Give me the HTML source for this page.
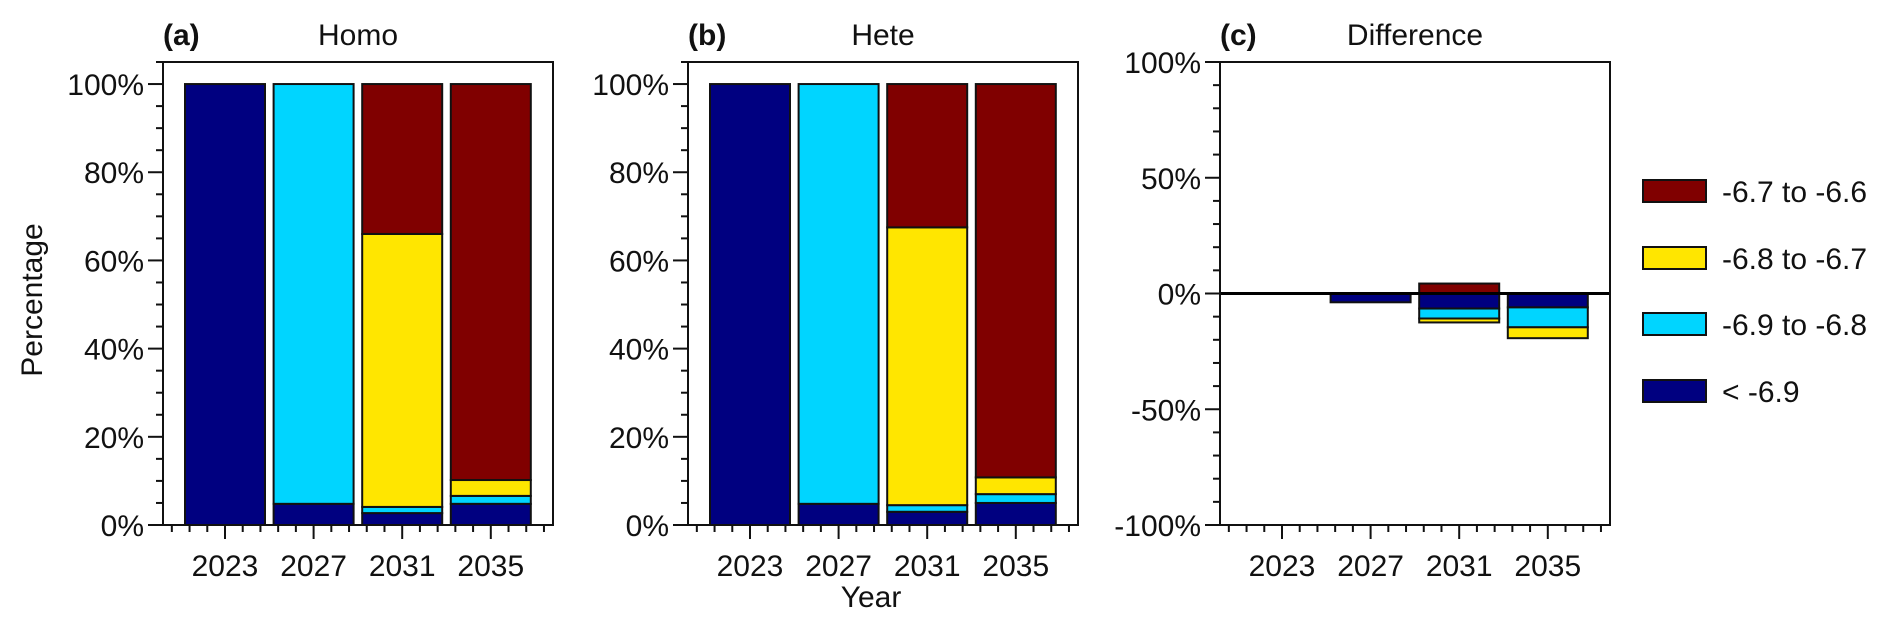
<!DOCTYPE html>
<html><head><meta charset="utf-8"><style>
html,body{margin:0;padding:0;background:#fff;}
svg{display:block;font-family:"Liberation Sans",Arial,sans-serif;}
</style></head><body>
<svg id="chart" width="1892" height="631" viewBox="0 0 1892 631" xmlns="http://www.w3.org/2000/svg"></svg>
<script>
const categories = ["2023","2027","2031","2035"];
const seriesNames = ["< -6.9","-6.9 to -6.8","-6.8 to -6.7","-6.7 to -6.6"];
const colors = ["#000080","#00d5ff","#ffe600","#800000"];
// Homo panel values (%) per class: navy, cyan, yellow, red
const homoNavy = [100, 4.8, 2.7, 4.8];
const homoCyan = [0, 95.2, 1.4, 1.8];
const homoYellow = [0, 0, 61.9, 3.6];
const homoRed = [0, 0, 34.0, 89.8];
// Hete panel
const heteNavy = [100, 4.8, 3.0, 5.0];
const heteCyan = [0, 95.2, 1.5, 2.0];
const heteYellow = [0, 0, 63.0, 3.8];
const heteRed = [0, 0, 32.5, 89.2];
// Difference panel
const diffNavy = [0, -3.8, -6.5, -6.0];
const diffCyan = [0, 0, -4.3, -8.6];
const diffYellow = [0, 0, -1.7, -4.7];
const diffRed = [0, 0, 4.3, 0];
const pctTicks = [0,20,40,60,80,100];
const diffTicks = [-100,-50,0,50,100];

const svg = document.getElementById('chart');
const NS = "http://www.w3.org/2000/svg";
const FS = 30;
function mk(tag, attrs, parent){
  const e = document.createElementNS(NS, tag);
  for (const k in attrs) e.setAttribute(k, attrs[k]);
  (parent||svg).appendChild(e);
  return e;
}
const TOP = 62, BOT = 525, W = 390, PITCH = 88.6, BARW = 80;
function xCenter(left, i){ return left + 62 + i*PITCH; }

function drawPanel(left, title, letter, yMin, yMax, ticks, minorStep, series, name){
  const g = mk('g', {}); 
  
  
  const y = v => BOT - (v - yMin) / (yMax - yMin) * (BOT - TOP);
  for (let i=0;i<categories.length;i++){
    let pos=0, neg=0;
    for (let s=0;s<series.length;s++){
      const v = series[s][i];
      if (!v) continue;
      let y0,y1;
      if (v>0){ y0=pos; y1=pos+v; pos=y1; } else { y0=neg; y1=neg+v; neg=y1; }
      const r = mk('rect', {x:xCenter(left,i)-BARW/2, y:Math.min(y(y0),y(y1)), width:BARW, height:Math.abs(y(y1)-y(y0)), fill:colors[s], stroke:'#111', 'stroke-width':2}, g);
      
      
    }
  }
  if (yMin < 0){
    const z = mk('line', {x1:left, x2:left+W, y1:y(0), y2:y(0), stroke:'#000', 'stroke-width':3}, g);
    
    
  }
  const f = mk('rect', {x:left, y:TOP, width:W, height:BOT-TOP, fill:'none', stroke:'#111', 'stroke-width':2}, g);
  
  
  for (let v=yMin; v<=yMax+0.001; v+=minorStep){
    const major = ticks.indexOf(Math.round(v))>=0;
    mk('line', {x1:left-(major?15:7), x2:left, y1:y(v), y2:y(v), stroke:'#111', 'stroke-width':2}, g);
  }
  ticks.forEach(v=>{
    const t = mk('text', {x:left-19, y:y(v)+11, 'text-anchor':'end', 'font-size':FS, fill:'#111'}, g);
    t.textContent = v + '%';
    
    
  });
  const step = PITCH/5;
  for (let k=-3; k<=18; k++){
    const x = xCenter(left,0) + k*step;
    if (x < left+5 || x > left+W-5) continue;
    const major = k%5===0 && k>=0 && k<=15;
    mk('line', {x1:x, x2:x, y1:BOT, y2:BOT+(major?14:7), stroke:'#111', 'stroke-width':2}, g);
  }
  categories.forEach((c,i)=>{
    const t = mk('text', {x:xCenter(left,i), y:BOT+51, 'text-anchor':'middle', 'font-size':FS, fill:'#111'}, g);
    t.textContent = c;
    
    
  });
  const l = mk('text', {x:left, y:45, 'font-size':FS, 'font-weight':'bold', fill:'#111'}, g);
  l.textContent = letter;
  
  
  const tt = mk('text', {x:left+W/2, y:45, 'text-anchor':'middle', 'font-size':FS, fill:'#111'}, g);
  tt.textContent = title;
  
  
}
const yMaxPct = 105;
drawPanel(163, 'Homo', '(a)', 0, yMaxPct, pctTicks, 5, [homoNavy,homoCyan,homoYellow,homoRed], 'panel-homo');
drawPanel(688, 'Hete', '(b)', 0, yMaxPct, pctTicks, 5, [heteNavy,heteCyan,heteYellow,heteRed], 'panel-hete');
drawPanel(1220, 'Difference', '(c)', -100, 100, diffTicks, 10, [diffNavy,diffCyan,diffYellow,diffRed], 'panel-difference');

const yl = mk('text', {x:0, y:0, transform:'translate(42,300) rotate(-90)', 'text-anchor':'middle', 'font-size':FS, fill:'#111'});
yl.textContent = 'Percentage';


const xl = mk('text', {x:871, y:607, 'text-anchor':'middle', 'font-size':FS, fill:'#111'});
xl.textContent = 'Year';



const legY = [191,258,324,391];
for (let j=0;j<4;j++){
  const s = 3-j;
  const g = mk('g', {});
  
  
  mk('rect', {x:1643, y:legY[j]-11, width:63, height:22, fill:colors[s], stroke:'#111', 'stroke-width':2}, g);
  const t = mk('text', {x:1722, y:legY[j]+11, 'font-size':FS, fill:'#111'}, g);
  t.textContent = seriesNames[s];
}
</script>
</body></html>
